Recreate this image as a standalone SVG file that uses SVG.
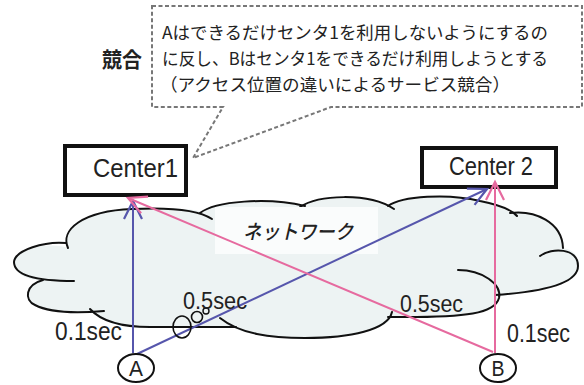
<svg xmlns="http://www.w3.org/2000/svg" width="584" height="385" viewBox="0 0 584 385">
<defs>
<style>
.cl{fill:none;stroke:#111;stroke-width:2;stroke-linecap:round}
.box{fill:#fff;stroke:#111;stroke-width:4}
.lbl{font-family:"Liberation Sans",Arial,sans-serif;fill:#222}
.jp{font-family:"Noto Sans CJK JP","Noto Sans CJK SC",sans-serif;fill:#222}
.blue{fill:none;stroke:#5656ac;stroke-width:2}
.pink{fill:none;stroke:#e66a9f;stroke-width:2}
</style>
<marker id="ab" markerUnits="userSpaceOnUse" markerWidth="24" markerHeight="24" viewBox="-20 -12 24 24" refX="0" refY="0" orient="auto">
<path d="M-18,-9 L0,0 L-18,9" fill="none" stroke="#5656ac" stroke-width="2.2"/>
</marker>
<marker id="ap" markerUnits="userSpaceOnUse" markerWidth="24" markerHeight="24" viewBox="-20 -12 24 24" refX="0" refY="0" orient="auto">
<path d="M-18,-9 L0,0 L-18,9" fill="none" stroke="#e66a9f" stroke-width="2.2"/>
</marker>
</defs>
<rect width="584" height="385" fill="#fff"/>

<g id="callout">
<path d="M152,6 H582 V107 H331 L193,158 L223,107 H152 Z" fill="#fff" stroke="#777" stroke-width="2" stroke-dasharray="4 2.5"/>
<text class="jp" x="162" y="39" font-size="17.5" textLength="386" lengthAdjust="spacingAndGlyphs">Aはできるだけセンタ1を利用しないようにするの</text>
<text class="jp" x="162" y="65" font-size="17.5" textLength="386" lengthAdjust="spacingAndGlyphs">に反し、Bはセンタ1をできるだけ利用しようとする</text>
<text class="jp" x="160" y="91" font-size="17.5" textLength="350" lengthAdjust="spacingAndGlyphs">（アクセス位置の違いによるサービス競合）</text>
</g>
<g id="label-kyougou">
<text class="jp" x="102" y="67" font-size="21" font-weight="bold" textLength="40" lengthAdjust="spacingAndGlyphs">競合</text>
</g>

<g id="network">
<path d="M68,248 C60,230 82,211 132,209 C172,207 195,209 203,212 C218,201 268,197 303,206 C318,195 368,192 390,206 C402,196 448,193 480,201 C496,204 506,209 510,213 C535,210 562,222 563,248 C575,250 578,256 578,266 C578,284 540,292 498,296 C494,313 470,318 392,316 C388,330 350,338 305,338 C270,338 245,334 232,327 L150,327 C120,327 100,320 97,312 C80,313 50,313 35,305 C24,300 25,285 43,280 C30,281 14,275 14,262 C15,250 45,241 68,248 Z" fill="#edf3f3"/>
<path class="cl" d="M68,248 C60,230 82,211 132,209 C172,207 200,211 212,219"/>
<path class="cl" d="M200,213 C215,201 268,197 305,206"/>
<path class="cl" d="M300,207 C318,195 368,192 394,209"/>
<path class="cl" d="M388,206 C402,196 448,193 480,201 C500,205 512,210 517,216"/>
<path class="cl" d="M510,213 C535,210 562,222 563,248"/>
<path class="cl" d="M540,256 C552,247 578,248 578,266 C578,284 540,292 495,295"/>
<path class="cl" d="M458,270 C482,270 502,284 499,298 C495,313 470,318 388,317"/>
<path class="cl" d="M220,318 C240,334 270,338 305,338 C350,338 388,330 392,312"/>
<path class="cl" d="M90,309 C100,320 120,327 150,327 L236,327"/>
<path class="cl" d="M43,280 C25,285 24,300 35,305 C50,313 80,313 104,311"/>
<path class="cl" d="M66,243 C45,241 15,250 14,262 C14,275 35,281 74,281"/>
<rect x="215" y="207" width="163" height="47" fill="#fafcfc"/>
<text class="jp" x="243" y="239" font-size="20" font-style="italic" font-weight="500" textLength="110" lengthAdjust="spacingAndGlyphs">ネットワーク</text>
</g>

<g id="center1">
<rect class="box" x="65" y="146" width="121" height="49"/>
<text class="lbl" x="135.5" y="177" font-size="25" text-anchor="middle" textLength="85" lengthAdjust="spacingAndGlyphs">Center1</text>
</g>
<g id="center2">
<rect class="box" x="422" y="148" width="134" height="39"/>
<text class="lbl" x="491" y="175" font-size="25" text-anchor="middle" textLength="84" lengthAdjust="spacingAndGlyphs">Center 2</text>
</g>

<g id="connectors">
<line class="blue" x1="133" y1="353" x2="133" y2="201" marker-end="url(#ab)"/>
<line class="blue" x1="137" y1="354" x2="487" y2="189" marker-end="url(#ab)"/>
<line class="pink" x1="493" y1="352" x2="128" y2="198" marker-end="url(#ap)"/>
<line class="pink" x1="495" y1="353" x2="495" y2="182" marker-end="url(#ap)"/>
</g>

<g id="congestion">
<ellipse cx="182" cy="327" rx="9" ry="11" fill="none" stroke="#111" stroke-width="1.6"/>
<circle cx="197" cy="317" r="5.5" fill="none" stroke="#111" stroke-width="1.6"/>
<circle cx="206" cy="311" r="3" fill="none" stroke="#111" stroke-width="1.4"/>
</g>

<g id="labels">
<text class="lbl" x="55" y="340" font-size="25" textLength="67" lengthAdjust="spacingAndGlyphs">0.1sec</text>
<text class="lbl" x="183" y="309" font-size="24" textLength="64" lengthAdjust="spacingAndGlyphs">0.5sec</text>
<text class="lbl" x="400" y="312" font-size="24" textLength="63" lengthAdjust="spacingAndGlyphs">0.5sec</text>
<text class="lbl" x="507" y="342" font-size="25" textLength="63" lengthAdjust="spacingAndGlyphs">0.1sec</text>
</g>

<g id="nodeA">
<ellipse cx="136" cy="368" rx="18" ry="14" fill="#fff" stroke="#111" stroke-width="2"/>
<text class="lbl" x="136" y="376" font-size="22" text-anchor="middle" textLength="14" lengthAdjust="spacingAndGlyphs">A</text>
</g>
<g id="nodeB">
<ellipse cx="498" cy="368" rx="18" ry="14" fill="#fff" stroke="#111" stroke-width="2"/>
<text class="lbl" x="498" y="376" font-size="22" text-anchor="middle" textLength="13" lengthAdjust="spacingAndGlyphs">B</text>
</g>
</svg>
